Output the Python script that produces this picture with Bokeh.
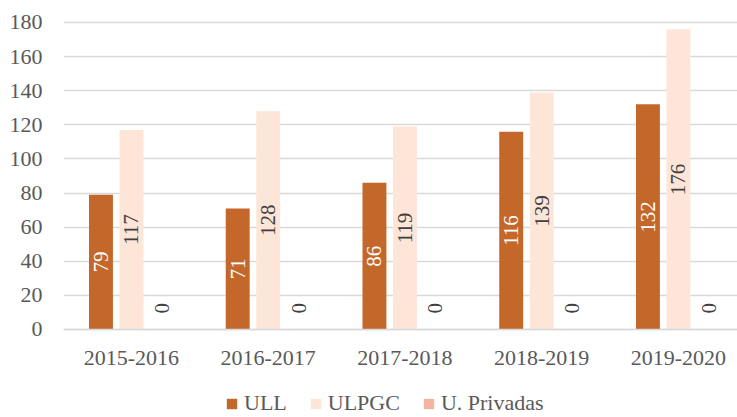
import math
from bokeh.plotting import figure
from bokeh.models import ColumnDataSource, Range1d, FixedTicker, Legend, LegendItem
from bokeh.embed import file_html
from bokeh.resources import INLINE
from bokeh.core.properties import value

# ---- data ----
years = ["2015-2016", "2016-2017", "2017-2018", "2018-2019", "2019-2020"]
ull = [79, 71, 86, 116, 132]
ulpgc = [117, 128, 119, 139, 176]
privadas = [0, 0, 0, 0, 0]
series_names = ["ULL", "ULPGC", "U. Privadas"]
y_ticks = [0, 20, 40, 60, 80, 100, 120, 140, 160, 180]

# ---- style ----
colors = ["#C4672B", "#FDE5D8", "#F4B5A0"]
label_colors = ["#FFFFFF", "#404040", "#404040"]
offsets = [-0.223, 0.0, 0.223]
bar_w = 0.175
FONT = "Liberation Serif"

p = figure(width=737, height=417, output_backend="svg", toolbar_location=None,
           x_range=Range1d(-0.497, 4.432), y_range=Range1d(-51.6, 181.17),
           min_border_left=63, min_border_right=0, min_border_top=20,
           min_border_bottom=0)
p.outline_line_color = None
p.background_fill_color = "white"
p.border_fill_color = "white"

idx = list(range(len(years)))
renderers = []
for k, (name, vals) in enumerate(zip(series_names, [ull, ulpgc, privadas])):
    xs = [i + offsets[k] for i in idx]
    src = ColumnDataSource(dict(x=xs, top=vals))
    r = p.vbar(x="x", top="top", width=bar_w, source=src,
               fill_color=colors[k], line_color=None)
    renderers.append(r)
    nz = ColumnDataSource(dict(x=[x for x, v in zip(xs, vals) if v != 0],
                               y=[v / 2 for v in vals if v != 0],
                               t=[str(v) for v in vals if v != 0]))
    z = ColumnDataSource(dict(x=[x for x, v in zip(xs, vals) if v == 0],
                              y=[v for v in vals if v == 0],
                              t=[str(v) for v in vals if v == 0]))
    p.text(x="x", y="y", text="t", source=nz, angle=math.pi / 2,
           text_align="center", text_baseline="middle",
           text_font=value(FONT), text_font_size="21px",
           text_color=label_colors[k])
    p.text(x="x", y="y", text="t", source=z, angle=math.pi / 2,
           text_align="left", text_baseline="middle",
           text_font=value(FONT), text_font_size="21px",
           text_color=label_colors[k], y_offset=-16)

# axes
p.yaxis.ticker = FixedTicker(ticks=y_ticks)
p.yaxis.axis_line_color = None
p.yaxis.major_tick_line_color = None
p.yaxis.minor_tick_line_color = None
p.yaxis.major_label_text_font = FONT
p.yaxis.major_label_text_font_size = "22px"
p.yaxis.major_label_text_color = "#595959"
p.yaxis.major_label_standoff = 15

p.xaxis.fixed_location = 0
p.xaxis.ticker = FixedTicker(ticks=idx)
p.xaxis.major_label_overrides = {i: y for i, y in zip(idx, years)}
p.xaxis.axis_line_color = "#D9D9D9"
p.xaxis.axis_line_width = 1.5
p.xaxis.major_tick_line_color = None
p.xaxis.minor_tick_line_color = None
p.xaxis.major_label_text_font = FONT
p.xaxis.major_label_text_font_size = "22px"
p.xaxis.major_label_text_color = "#595959"
p.xaxis.major_label_standoff = 16

p.xgrid.grid_line_color = None
p.ygrid.ticker = FixedTicker(ticks=y_ticks)
p.ygrid.grid_line_color = "#D9D9D9"
p.ygrid.grid_line_width = 1.5

legend = Legend(items=[LegendItem(label=n, renderers=[r]) for n, r in zip(series_names, renderers)],
                location=(162, 1), orientation="horizontal",
                glyph_width=13, glyph_height=13, label_standoff=6, spacing=22,
                padding=0, margin=0, border_line_color=None,
                background_fill_alpha=0,
                label_text_font=FONT, label_text_font_size="22px",
                label_text_color="#595959")
p.add_layout(legend, "center")

open("out.html", "w").write(file_html(p, INLINE))
